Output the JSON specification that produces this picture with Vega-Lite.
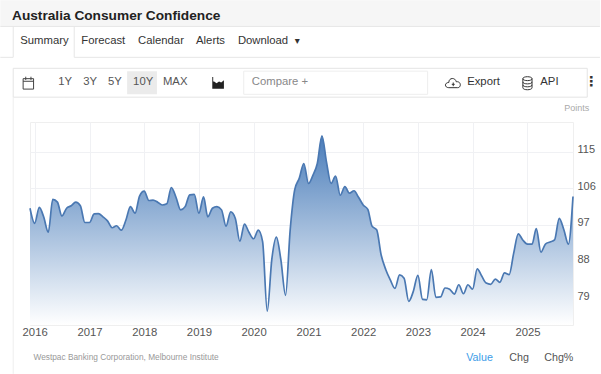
{"$schema":"https://vega.github.io/schema/vega-lite/v6.json","width":543,"height":203,"autosize":"none","padding":{"left":30,"top":122,"right":28,"bottom":49},"background":"white","title":{"text":"Australia Consumer Confidence","anchor":"start","frame":"group","dx":-18,"offset":-22,"fontSize":13.7,"fontWeight":"bold","color":"#222222","font":"Liberation Sans"},"config":{"view":{"stroke":"#efefef"},"text":{"font":"Liberation Sans","fontSize":11.3,"color":"#333333","align":"left","baseline":"middle"}},
"datasets":{"cc":[
{"date":"2015-12-01","value":101.1},{"date":"2016-01-01","value":97.4},{"date":"2016-02-01","value":101.3},{"date":"2016-03-01","value":99.0},{"date":"2016-04-01","value":95.2},{"date":"2016-05-01","value":103.3},{"date":"2016-06-01","value":102.6},{"date":"2016-07-01","value":99.2},{"date":"2016-08-01","value":101.1},{"date":"2016-09-01","value":101.7},{"date":"2016-10-01","value":102.6},{"date":"2016-11-01","value":101.7},{"date":"2016-12-01","value":97.6},
{"date":"2017-01-01","value":97.6},{"date":"2017-02-01","value":99.7},{"date":"2017-03-01","value":99.8},{"date":"2017-04-01","value":99.0},{"date":"2017-05-01","value":98.0},{"date":"2017-06-01","value":96.3},{"date":"2017-07-01","value":96.8},{"date":"2017-08-01","value":95.7},{"date":"2017-09-01","value":98.2},{"date":"2017-10-01","value":101.5},{"date":"2017-11-01","value":99.9},{"date":"2017-12-01","value":104.1},
{"date":"2018-01-01","value":105.3},{"date":"2018-02-01","value":103.0},{"date":"2018-03-01","value":103.1},{"date":"2018-04-01","value":102.6},{"date":"2018-05-01","value":101.9},{"date":"2018-06-01","value":102.2},{"date":"2018-07-01","value":106.2},{"date":"2018-08-01","value":103.8},{"date":"2018-09-01","value":100.7},{"date":"2018-10-01","value":101.5},{"date":"2018-11-01","value":104.4},{"date":"2018-12-01","value":104.5},
{"date":"2019-01-01","value":99.9},{"date":"2019-02-01","value":103.9},{"date":"2019-03-01","value":99.0},{"date":"2019-04-01","value":101.1},{"date":"2019-05-01","value":101.5},{"date":"2019-06-01","value":100.7},{"date":"2019-07-01","value":96.7},{"date":"2019-08-01","value":100.2},{"date":"2019-09-01","value":98.6},{"date":"2019-10-01","value":93.0},{"date":"2019-11-01","value":97.2},{"date":"2019-12-01","value":95.2},
{"date":"2020-01-01","value":93.6},{"date":"2020-02-01","value":95.7},{"date":"2020-03-01","value":92.9},{"date":"2020-04-01","value":75.8},{"date":"2020-05-01","value":88.4},{"date":"2020-06-01","value":94.0},{"date":"2020-07-01","value":88.4},{"date":"2020-08-01","value":79.7},{"date":"2020-09-01","value":95.8},{"date":"2020-10-01","value":105.6},{"date":"2020-11-01","value":108.5},{"date":"2020-12-01","value":112.1},
{"date":"2021-01-01","value":107.2},{"date":"2021-02-01","value":109.3},{"date":"2021-03-01","value":112.1},{"date":"2021-04-01","value":118.9},{"date":"2021-05-01","value":112.5},{"date":"2021-06-01","value":107.2},{"date":"2021-07-01","value":109.0},{"date":"2021-08-01","value":104.3},{"date":"2021-09-01","value":106.4},{"date":"2021-10-01","value":104.8},{"date":"2021-11-01","value":105.4},{"date":"2021-12-01","value":103.8},
{"date":"2022-01-01","value":101.9},{"date":"2022-02-01","value":100.8},{"date":"2022-03-01","value":96.7},{"date":"2022-04-01","value":95.8},{"date":"2022-05-01","value":89.6},{"date":"2022-06-01","value":86.0},{"date":"2022-07-01","value":83.5},{"date":"2022-08-01","value":81.4},{"date":"2022-09-01","value":84.7},{"date":"2022-10-01","value":83.9},{"date":"2022-11-01","value":78.2},{"date":"2022-12-01","value":80.6},
{"date":"2023-01-01","value":84.6},{"date":"2023-02-01","value":78.7},{"date":"2023-03-01","value":78.6},{"date":"2023-04-01","value":86.0},{"date":"2023-05-01","value":79.2},{"date":"2023-06-01","value":79.3},{"date":"2023-07-01","value":81.5},{"date":"2023-08-01","value":81.2},{"date":"2023-09-01","value":80.0},{"date":"2023-10-01","value":82.3},{"date":"2023-11-01","value":80.1},{"date":"2023-12-01","value":82.3},
{"date":"2024-01-01","value":81.2},{"date":"2024-02-01","value":86.2},{"date":"2024-03-01","value":84.5},{"date":"2024-04-01","value":82.7},{"date":"2024-05-01","value":82.4},{"date":"2024-06-01","value":83.7},{"date":"2024-07-01","value":82.9},{"date":"2024-08-01","value":85.2},{"date":"2024-09-01","value":84.8},{"date":"2024-10-01","value":90.0},{"date":"2024-11-01","value":94.8},{"date":"2024-12-01","value":93.3},
{"date":"2025-01-01","value":92.3},{"date":"2025-02-01","value":92.3},{"date":"2025-03-01","value":96.1},{"date":"2025-04-01","value":90.3},{"date":"2025-05-01","value":92.3},{"date":"2025-06-01","value":92.8},{"date":"2025-07-01","value":93.3},{"date":"2025-08-01","value":98.6},{"date":"2025-09-01","value":95.8},{"date":"2025-10-01","value":92.3},{"date":"2025-11-01","value":104.0}]},
"layer":[
{"data":{"name":"cc"},"mark":{"type":"area","interpolate":"monotone","fill":{"gradient":"linear","x1":0,"y1":0,"x2":0,"y2":1,"stops":[{"offset":0,"color":"#4a7dba"},{"offset":1,"color":"#ffffff"}]}},"encoding":{
"x":{"field":"date","type":"temporal","scale":{"domain":["2015-12-01","2025-11-01"]},"title":null,"axis":{"orient":"bottom","format":"%Y","tickCount":"year","grid":true,"gridColor":"#f0f1f4","domain":false,"ticks":false,"labelColor":"#555555","labelFont":"Liberation Sans","labelFontSize":11.3,"labelPadding":1,"labelFlush":false,"labelOverlap":false}},
"y":{"field":"value","type":"quantitative","scale":{"domain":[72.4,122.3]},"title":null,"axis":{"orient":"right","values":[79,88,97,106,115],"grid":true,"gridColor":"#f0f1f4","domain":false,"ticks":false,"labelColor":"#555555","labelFont":"Liberation Sans","labelFontSize":11,"labelPadding":4,"labelAlign":"left","labelOffset":-2}},"y2":{"datum":72.4}}},
{"data":{"name":"cc"},"mark":{"type":"line","interpolate":"monotone","color":"#4a78b2","strokeWidth":1.7},"encoding":{"x":{"field":"date","type":"temporal","scale":{"domain":["2015-12-01","2025-11-01"]}},"y":{"field":"value","type":"quantitative","scale":{"domain":[72.4,122.3]}}}},
{"data":{"values":[{}]},"mark":{"type":"rect","fill":"#f6f6f6"},"encoding":{"x":{"datum":{"year":2015,"month":5,"date":17},"type":"temporal","scale":{"domain":["2015-12-01","2025-11-01"]}},"x2":{"datum":{"year":2026,"month":4,"date":30}},"y":{"datum":152.2,"type":"quantitative","scale":{"domain":[72.4,122.3]}},"y2":{"datum":145.8}}},
{"data":{"values":[{}]},"mark":{"type":"rule","color":"#e6e6e6"},"encoding":{"x":{"datum":{"year":2015,"month":5,"date":17},"type":"temporal","scale":{"domain":["2015-12-01","2025-11-01"]}},"x2":{"datum":{"year":2026,"month":4,"date":30}},"y":{"datum":145.8,"type":"quantitative","scale":{"domain":[72.4,122.3]}}}},
{"data":{"values":[{}]},"mark":{"type":"rule","color":"#e6e6e6"},"encoding":{"x":{"datum":{"year":2015,"month":5,"date":17},"type":"temporal","scale":{"domain":["2015-12-01","2025-11-01"]}},"x2":{"datum":{"year":2015,"month":8,"date":11}},"y":{"datum":138.2,"type":"quantitative","scale":{"domain":[72.4,122.3]}}}},
{"data":{"values":[{}]},"mark":{"type":"rule","color":"#e6e6e6"},"encoding":{"x":{"datum":{"year":2016,"month":9,"date":21},"type":"temporal","scale":{"domain":["2015-12-01","2025-11-01"]}},"x2":{"datum":{"year":2026,"month":4,"date":30}},"y":{"datum":138.2,"type":"quantitative","scale":{"domain":[72.4,122.3]}}}},
{"data":{"values":[{}]},"mark":{"type":"rule","color":"#e6e6e6"},"encoding":{"x":{"datum":{"year":2015,"month":8,"date":11},"type":"temporal","scale":{"domain":["2015-12-01","2025-11-01"]}},"y":{"datum":145.8,"type":"quantitative","scale":{"domain":[72.4,122.3]}},"y2":{"datum":138.2}}},
{"data":{"values":[{}]},"mark":{"type":"rule","color":"#e6e6e6"},"encoding":{"x":{"datum":{"year":2016,"month":9,"date":21},"type":"temporal","scale":{"domain":["2015-12-01","2025-11-01"]}},"y":{"datum":145.8,"type":"quantitative","scale":{"domain":[72.4,122.3]}},"y2":{"datum":138.2}}},
{"data":{"values":[{}]},"mark":{"type":"rect","fill":"white","stroke":"#e4e4e4"},"encoding":{"x":{"datum":{"year":2015,"month":8,"date":11},"type":"temporal","scale":{"domain":["2015-12-01","2025-11-01"]}},"x2":{"datum":{"year":2026,"month":2,"date":4}},"y":{"datum":135.5,"type":"quantitative","scale":{"domain":[72.4,122.3]}},"y2":{"datum":128.4}}},
{"data":{"values":[{}]},"mark":{"type":"rect","fill":"#ebebeb"},"encoding":{"x":{"datum":{"year":2017,"month":9,"date":9},"type":"temporal","scale":{"domain":["2015-12-01","2025-11-01"]}},"x2":{"datum":{"year":2018,"month":3,"date":27}},"y":{"datum":134.8,"type":"quantitative","scale":{"domain":[72.4,122.3]}},"y2":{"datum":129.1}}},
{"data":{"values":[{}]},"mark":{"type":"rect","fill":"white","stroke":"#eeeeee"},"encoding":{"x":{"datum":{"year":2019,"month":10,"date":27},"type":"temporal","scale":{"domain":["2015-12-01","2025-11-01"]}},"x2":{"datum":{"year":2023,"month":3,"date":7}},"y":{"datum":134.8,"type":"quantitative","scale":{"domain":[72.4,122.3]}},"y2":{"datum":129.1}}},
{"data":{"values":[{}]},"mark":{"type":"rule","color":"#eeeeee"},"encoding":{"x":{"datum":{"year":2015,"month":8,"date":11},"type":"temporal","scale":{"domain":["2015-12-01","2025-11-01"]}},"y":{"datum":128.4,"type":"quantitative","scale":{"domain":[72.4,122.3]}},"y2":{"datum":60.4}}},
{"data":{"values":[{"label":"Summary"}]},"mark":{"type":"text"},"encoding":{"text":{"field":"label"},"x":{"datum":{"year":2015,"month":9,"date":27},"type":"temporal","scale":{"domain":["2015-12-01","2025-11-01"]}},"y":{"datum":142.1,"type":"quantitative","scale":{"domain":[72.4,122.3]}}}},
{"data":{"values":[{"label":"Forecast"}]},"mark":{"type":"text"},"encoding":{"text":{"field":"label"},"x":{"datum":{"year":2016,"month":11,"date":7},"type":"temporal","scale":{"domain":["2015-12-01","2025-11-01"]}},"y":{"datum":142.1,"type":"quantitative","scale":{"domain":[72.4,122.3]}}}},
{"data":{"values":[{"label":"Calendar"}]},"mark":{"type":"text"},"encoding":{"text":{"field":"label"},"x":{"datum":{"year":2017,"month":11,"date":21},"type":"temporal","scale":{"domain":["2015-12-01","2025-11-01"]}},"y":{"datum":142.1,"type":"quantitative","scale":{"domain":[72.4,122.3]}}}},
{"data":{"values":[{"label":"Alerts"}]},"mark":{"type":"text"},"encoding":{"text":{"field":"label"},"x":{"datum":{"year":2018,"month":12,"date":13},"type":"temporal","scale":{"domain":["2015-12-01","2025-11-01"]}},"y":{"datum":142.1,"type":"quantitative","scale":{"domain":[72.4,122.3]}}}},
{"data":{"values":[{"label":"Download"}]},"mark":{"type":"text"},"encoding":{"text":{"field":"label"},"x":{"datum":{"year":2019,"month":9,"date":18},"type":"temporal","scale":{"domain":["2015-12-01","2025-11-01"]}},"y":{"datum":142.1,"type":"quantitative","scale":{"domain":[72.4,122.3]}}}},
{"data":{"values":[{"label":"▾"}]},"mark":{"type":"text","font":"DejaVu Sans","fontSize":10},"encoding":{"text":{"field":"label"},"x":{"datum":{"year":2020,"month":10,"date":2},"type":"temporal","scale":{"domain":["2015-12-01","2025-11-01"]}},"y":{"datum":142.1,"type":"quantitative","scale":{"domain":[72.4,122.3]}}}},
{"data":{"values":[{"label":"1Y"}]},"mark":{"type":"text","color":"#555555"},"encoding":{"text":{"field":"label"},"x":{"datum":{"year":2016,"month":6,"date":7},"type":"temporal","scale":{"domain":["2015-12-01","2025-11-01"]}},"y":{"datum":132.07,"type":"quantitative","scale":{"domain":[72.4,122.3]}}}},
{"data":{"values":[{"label":"3Y"}]},"mark":{"type":"text","color":"#555555"},"encoding":{"text":{"field":"label"},"x":{"datum":{"year":2016,"month":11,"date":20},"type":"temporal","scale":{"domain":["2015-12-01","2025-11-01"]}},"y":{"datum":132.07,"type":"quantitative","scale":{"domain":[72.4,122.3]}}}},
{"data":{"values":[{"label":"5Y"}]},"mark":{"type":"text","color":"#555555"},"encoding":{"text":{"field":"label"},"x":{"datum":{"year":2017,"month":5,"date":5},"type":"temporal","scale":{"domain":["2015-12-01","2025-11-01"]}},"y":{"datum":132.07,"type":"quantitative","scale":{"domain":[72.4,122.3]}}}},
{"data":{"values":[{"label":"10Y"}]},"mark":{"type":"text","color":"#555555"},"encoding":{"text":{"field":"label"},"x":{"datum":{"year":2017,"month":10,"date":19},"type":"temporal","scale":{"domain":["2015-12-01","2025-11-01"]}},"y":{"datum":132.07,"type":"quantitative","scale":{"domain":[72.4,122.3]}}}},
{"data":{"values":[{"label":"MAX"}]},"mark":{"type":"text","color":"#555555"},"encoding":{"text":{"field":"label"},"x":{"datum":{"year":2018,"month":5,"date":6},"type":"temporal","scale":{"domain":["2015-12-01","2025-11-01"]}},"y":{"datum":132.07,"type":"quantitative","scale":{"domain":[72.4,122.3]}}}},
{"data":{"values":[{"label":"Compare +"}]},"mark":{"type":"text","color":"#888888"},"encoding":{"text":{"field":"label"},"x":{"datum":{"year":2019,"month":12,"date":20},"type":"temporal","scale":{"domain":["2015-12-01","2025-11-01"]}},"y":{"datum":132.07,"type":"quantitative","scale":{"domain":[72.4,122.3]}}}},
{"data":{"values":[{"label":"Export"}]},"mark":{"type":"text"},"encoding":{"text":{"field":"label"},"x":{"datum":{"year":2023,"month":11,"date":26},"type":"temporal","scale":{"domain":["2015-12-01","2025-11-01"]}},"y":{"datum":132.07,"type":"quantitative","scale":{"domain":[72.4,122.3]}}}},
{"data":{"values":[{"label":"API"}]},"mark":{"type":"text"},"encoding":{"text":{"field":"label"},"x":{"datum":{"year":2025,"month":3,"date":28},"type":"temporal","scale":{"domain":["2015-12-01","2025-11-01"]}},"y":{"datum":132.07,"type":"quantitative","scale":{"domain":[72.4,122.3]}}}},
{"data":{"values":[{"label":"⋮"}]},"mark":{"type":"text","font":"DejaVu Sans","fontSize":14,"fontWeight":"bold"},"encoding":{"text":{"field":"label"},"x":{"datum":{"year":2026,"month":1,"date":15},"type":"temporal","scale":{"domain":["2015-12-01","2025-11-01"]}},"y":{"datum":132.07,"type":"quantitative","scale":{"domain":[72.4,122.3]}}}},
{"data":{"values":[{"label":"Points"}]},"mark":{"type":"text","color":"#aaaaaa","fontSize":9},"encoding":{"text":{"field":"label"},"x":{"datum":{"year":2025,"month":9,"date":3},"type":"temporal","scale":{"domain":["2015-12-01","2025-11-01"]}},"y":{"datum":125.68,"type":"quantitative","scale":{"domain":[72.4,122.3]}}}},
{"data":{"values":[{"label":"Westpac Banking Corporation, Melbourne Institute"}]},"mark":{"type":"text","color":"#999999","fontSize":8.3},"encoding":{"text":{"field":"label"},"x":{"datum":{"year":2015,"month":12,"date":24},"type":"temporal","scale":{"domain":["2015-12-01","2025-11-01"]}},"y":{"datum":64.26,"type":"quantitative","scale":{"domain":[72.4,122.3]}}}},
{"data":{"values":[{"label":"Value"}]},"mark":{"type":"text","color":"#3b9be8","fontSize":10.7},"encoding":{"text":{"field":"label"},"x":{"datum":{"year":2023,"month":11,"date":20},"type":"temporal","scale":{"domain":["2015-12-01","2025-11-01"]}},"y":{"datum":64.26,"type":"quantitative","scale":{"domain":[72.4,122.3]}}}},
{"data":{"values":[{"label":"Chg"}]},"mark":{"type":"text","color":"#555555","fontSize":10.7},"encoding":{"text":{"field":"label"},"x":{"datum":{"year":2024,"month":9,"date":2},"type":"temporal","scale":{"domain":["2015-12-01","2025-11-01"]}},"y":{"datum":64.26,"type":"quantitative","scale":{"domain":[72.4,122.3]}}}},
{"data":{"values":[{"label":"Chg%"}]},"mark":{"type":"text","color":"#555555","fontSize":10.7},"encoding":{"text":{"field":"label"},"x":{"datum":{"year":2025,"month":4,"date":23},"type":"temporal","scale":{"domain":["2015-12-01","2025-11-01"]}},"y":{"datum":64.26,"type":"quantitative","scale":{"domain":[72.4,122.3]}}}},
{"data":{"values":[{}]},"mark":{"type":"point","filled":false,"stroke":"#444444","strokeWidth":1,"opacity":1,"size":170,"shape":"M-0.8,-0.7H0.8V0.9H-0.8ZM-0.8,-0.3H0.8M-0.4,-1V-0.5M0.4,-1V-0.5"},"encoding":{"x":{"datum":{"year":2015,"month":11,"date":20},"type":"temporal","scale":{"domain":["2015-12-01","2025-11-01"]}},"y":{"datum":131.83,"type":"quantitative","scale":{"domain":[72.4,122.3]}}}},
{"data":{"values":[{}]},"mark":{"type":"point","filled":true,"fill":"#222222","opacity":1,"size":150,"shape":"M-0.9,-1V0.9H1V-0.5L0.55,-0.1L0.2,-0.3L-0.2,0L-0.6,-0.3L-0.75,-0.3V-1Z"},"encoding":{"x":{"datum":{"year":2019,"month":5,"date":7},"type":"temporal","scale":{"domain":["2015-12-01","2025-11-01"]}},"y":{"datum":131.83,"type":"quantitative","scale":{"domain":[72.4,122.3]}}}},
{"data":{"values":[{}]},"mark":{"type":"point","filled":false,"stroke":"#333333","strokeWidth":1,"opacity":1,"size":220,"shape":"M-0.6,0.6C-1.2,0.6 -1.2,-0.1 -0.6,-0.1C-0.6,-0.8 0.3,-0.8 0.4,-0.2C1.1,-0.3 1.1,0.6 0.6,0.6ZM0,-0.1V0.4M-0.2,0.15H0.2"},"encoding":{"x":{"datum":{"year":2023,"month":8,"date":25},"type":"temporal","scale":{"domain":["2015-12-01","2025-11-01"]}},"y":{"datum":131.83,"type":"quantitative","scale":{"domain":[72.4,122.3]}}}},
{"data":{"values":[{}]},"mark":{"type":"point","filled":false,"stroke":"#333333","strokeWidth":1,"opacity":1,"size":170,"shape":"M-0.7,-0.7C-0.7,-1.1 0.7,-1.1 0.7,-0.7V0.7C0.7,1.1 -0.7,1.1 -0.7,0.7ZM-0.7,-0.7C-0.7,-0.3 0.7,-0.3 0.7,-0.7M-0.7,-0.2C-0.7,0.2 0.7,0.2 0.7,-0.2M-0.7,0.25C-0.7,0.65 0.7,0.65 0.7,0.25"},"encoding":{"x":{"datum":{"year":2025,"month":1,"date":1},"type":"temporal","scale":{"domain":["2015-12-01","2025-11-01"]}},"y":{"datum":131.83,"type":"quantitative","scale":{"domain":[72.4,122.3]}}}}
]}
